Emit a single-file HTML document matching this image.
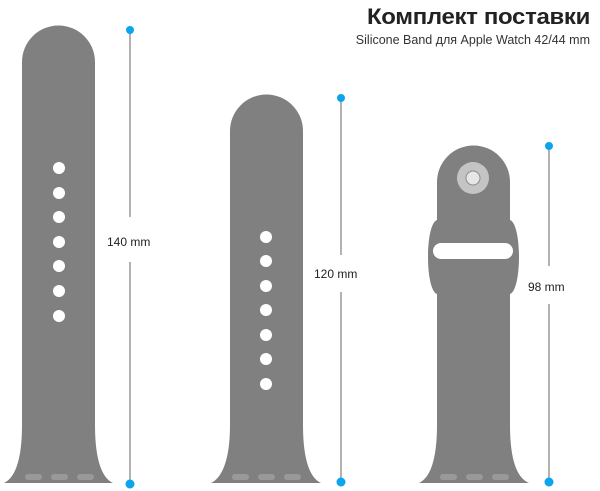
<!DOCTYPE html>
<html><head><meta charset="utf-8"><style>
html,body{margin:0;padding:0;background:#fff;}
svg{display:block;}
text{font-family:"Liberation Sans","Noto Sans CJK SC",sans-serif;}
</style></head><body>
<svg width="600" height="491" viewBox="0 0 600 491" xmlns="http://www.w3.org/2000/svg">
<text x="590" y="24" text-anchor="end" font-size="22" font-weight="bold" fill="#222" textLength="223" lengthAdjust="spacingAndGlyphs" letter-spacing="-0.3">Комплект поставки</text>
<text x="590" y="44" text-anchor="end" font-size="12.5" fill="#333">Silicone Band для Apple Watch 42/44 mm</text>

<!-- band 1 -->
<path d="M22,62 A36.5,36.5 0 0 1 95,62 L95,425 C95,460 102,478 113,483 L4,483 C15,478 22,460 22,425 Z" fill="#808080"/>
<g fill="#fff">
<circle cx="59" cy="168" r="6"/><circle cx="59" cy="193" r="6"/><circle cx="59" cy="217" r="6"/><circle cx="59" cy="242" r="6"/><circle cx="59" cy="266" r="6"/><circle cx="59" cy="291" r="6"/><circle cx="59" cy="316" r="6"/>
</g>
<g fill="#999"><rect x="25" y="474" width="17" height="6" rx="3"/><rect x="51" y="474" width="17" height="6" rx="3"/><rect x="77" y="474" width="17" height="6" rx="3"/></g>

<!-- band 2 -->
<path d="M230,131 A36.5,36.5 0 0 1 303,131 L303,425 C303,460 310,478 321,483 L211,483 C222,478 230,460 230,425 Z" fill="#808080"/>
<g fill="#fff">
<circle cx="266" cy="237" r="6"/><circle cx="266" cy="261" r="6"/><circle cx="266" cy="286" r="6"/><circle cx="266" cy="310" r="6"/><circle cx="266" cy="335" r="6"/><circle cx="266" cy="359" r="6"/><circle cx="266" cy="384" r="6"/>
</g>
<g fill="#999"><rect x="232" y="474" width="17" height="6" rx="3"/><rect x="258" y="474" width="17" height="6" rx="3"/><rect x="284" y="474" width="17" height="6" rx="3"/></g>

<!-- band 3 -->
<path d="M437,182 A36.5,36.5 0 0 1 510,182 L510,220 C522,224 522,290 510,294 L510,425 C510,460 517,478 529,483 L419,483 C430,478 437,460 437,425 L437,294 C425,290 425,224 437,220 Z" fill="#808080"/>
<circle cx="473" cy="178" r="16" fill="#c4c4c4"/>
<circle cx="473" cy="178" r="7" fill="#e6e6e6" stroke="#8a8a8a" stroke-width="1"/>
<rect x="433" y="243" width="80" height="16" rx="8" fill="#fff"/>
<g fill="#999"><rect x="440" y="474" width="17" height="6" rx="3"/><rect x="466" y="474" width="17" height="6" rx="3"/><rect x="492" y="474" width="17" height="6" rx="3"/></g>

<!-- measure lines -->
<g stroke="#999" stroke-width="1.5">
<line x1="130" y1="30" x2="130" y2="217"/><line x1="130" y1="262" x2="130" y2="484"/>
<line x1="341" y1="98" x2="341" y2="255"/><line x1="341" y1="292" x2="341" y2="482"/>
<line x1="549" y1="146" x2="549" y2="266"/><line x1="549" y1="304" x2="549" y2="482"/>
</g>
<g fill="#0aa5ee">
<circle cx="130" cy="30" r="4"/><circle cx="130" cy="484" r="4.5"/>
<circle cx="341" cy="98" r="4"/><circle cx="341" cy="482" r="4.5"/>
<circle cx="549" cy="146" r="4"/><circle cx="549" cy="482" r="4.5"/>
</g>
<g font-size="12" fill="#222">
<text x="107" y="246">140 mm</text>
<text x="314" y="278">120 mm</text>
<text x="528" y="291">98 mm</text>
</g>
</svg>
</body></html>
